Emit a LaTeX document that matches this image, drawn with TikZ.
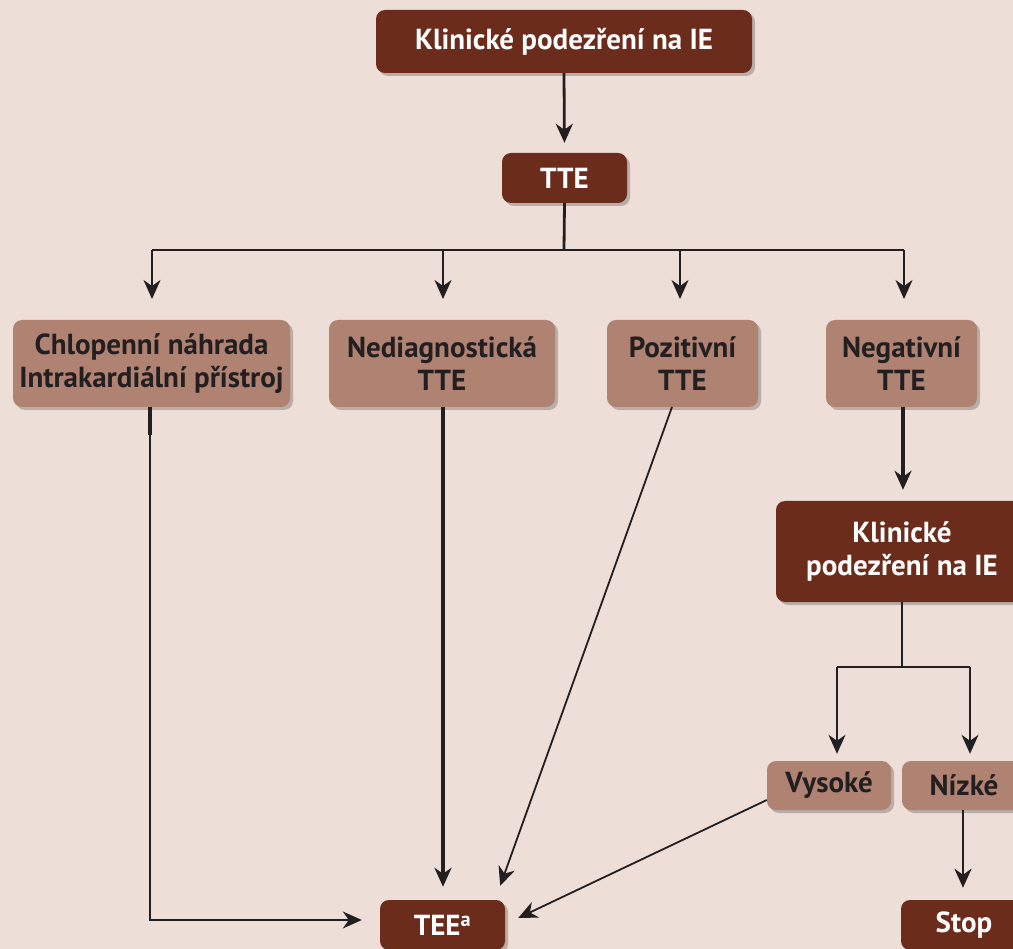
\documentclass[tikz,border=0pt]{standalone}
\usepackage{fontspec}
\newfontfamily\diagfont{PT Sans}
\usetikzlibrary{arrows.meta,shadows,calc}
\definecolor{bgcol}{HTML}{EDDED7}
\definecolor{darkbox}{HTML}{6B2C1C}
\definecolor{lightbox}{HTML}{AF8272}
\definecolor{ink}{HTML}{231F20}
\tikzset{
  boxbase/.style={rounded corners=9pt, inner sep=0pt, align=center,
    font=\diagfont\bfseries\fontsize{29}{33}\selectfont,
    drop shadow={shadow xshift=3pt, shadow yshift=-3pt, opacity=0.22, fill=black}},
  darknode/.style={boxbase, fill=darkbox, text=white},
  lightnode/.style={boxbase, fill=lightbox, text=ink},
  thinline/.style={draw=ink, line width=1.8pt},
  midline/.style={draw=ink, line width=2.8pt},
  thickline/.style={draw=ink, line width=3.8pt},
  tip/.style={-{Stealth[length=19pt,width=17pt,inset=6pt]}},
}
\begin{document}
\begin{tikzpicture}[x=1pt,y=-1pt]
\useasboundingbox (0,0) rectangle (1013,949);
\fill[bgcol] (0,0) rectangle (1013,949);

\node[darknode, minimum width=376pt, minimum height=63pt] (top) at (564,41.5) {Klinické podezření na IE};
\node[darknode, minimum width=125pt, minimum height=50pt] (tte) at (564.5,178) {TTE};
\node[lightnode, minimum width=277pt, minimum height=87pt] (chl) at (151.5,363.5) {Chlopenní náhrada\\Intrakardiální přístroj};
\node[lightnode, minimum width=226pt, minimum height=87pt] (ned) at (442,363.5) {Nediagnostická\\TTE};
\node[lightnode, minimum width=151pt, minimum height=87pt] (pos) at (682.5,363.5) {Pozitivní\\TTE};
\node[lightnode, minimum width=151pt, minimum height=87pt] (neg) at (901.5,363.5) {Negativní\\TTE};
\node[darknode, minimum width=252pt, minimum height=101pt] (kl2) at (902,551.5) {Klinické\\podezření na IE};
\node[lightnode, minimum width=124pt, minimum height=49pt] (vys) at (829,785.5) {Vysoké};
\node[lightnode, minimum width=124pt, minimum height=49pt] (niz) at (964,785.5) {Nízké};
\node[darknode, minimum width=126pt, minimum height=50pt] (stop) at (964,925) {Stop};
\node[darknode, minimum width=125pt, minimum height=50pt] (tee) at (442.5,925) {TEE\textsuperscript{a}};

% top -> TTE
\draw[midline, tip, shorten >=10pt] (top.south) -- (tte.north);
% TTE -> branches
\coordinate (br) at (564,250);
\draw[midline] (tte.south) -- (br);
\draw[thinline] (152,250) -- (904,250);
\draw[thinline, tip, shorten >=21pt] (152,250) -- (152,320);
\draw[thinline, tip, shorten >=21pt] (443,250) -- (443,320);
\draw[thinline, tip, shorten >=21pt] (680,250) -- (680,320);
\draw[thinline, tip, shorten >=21pt] (904,250) -- (904,320);

% Chlopenni -> TEE
\draw[thickline] (150,407) -- (150,435);
\draw[thinline, tip, shorten >=18pt] (150,407) -- (150,920) -- (tee.west |- 150,920);
% Nediagnosticka -> TEE
\draw[thickline, tip, shorten >=13pt] (443,407) -- (tee.north -| 443,0);
% Pozitivni -> TEE
\draw[thinline, tip] (672,407) -- ($(tee.north east)+(-5,-14)$);
% Vysoke -> TEE
\draw[thinline, tip] (vys.west |- 0,800) -- ($(tee.east)+(13,-7)$);
% Negativni -> Klinicke 2
\draw[thickline, tip, shorten >=11pt] (903,407) -- (kl2.north -| 903,0);
% Klinicke 2 -> branches
\draw[midline] (kl2.south -| 902,0) -- (902,667);
\draw[thinline] (837,667) -- (970,667);
\draw[thinline, tip, shorten >=7pt] (837,667) -- (vys.north -| 837,0);
\draw[thinline, tip, shorten >=7pt] (970,667) -- (niz.north -| 970,0);
% Nizke -> Stop
\draw[midline, tip, shorten >=12pt] (niz.south -| 963,0) -- (stop.north -| 963,0);
\end{tikzpicture}
\end{document}
